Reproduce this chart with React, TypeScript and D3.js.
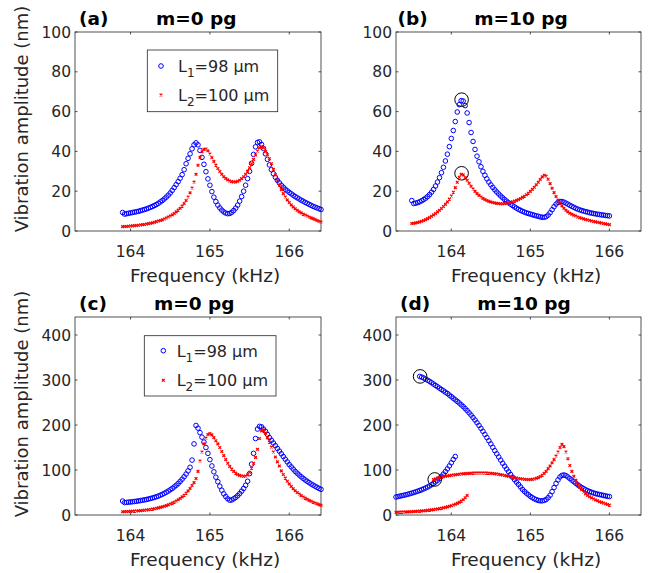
import React from "react";
import * as d3 from "d3";

// Frequency sweep grid (kHz)
const FREQ = [
  163.3, 163.325, 163.35, 163.375, 163.4, 163.425, 163.45, 163.475, 163.5, 163.525, 163.55, 163.575,
  163.6, 163.625, 163.65, 163.675, 163.7, 163.725, 163.75, 163.775, 163.8, 163.825, 163.85, 163.875,
  163.9, 163.925, 163.95, 163.975, 164, 164.025, 164.05, 164.075, 164.1, 164.125, 164.15, 164.175,
  164.2, 164.225, 164.25, 164.275, 164.3, 164.325, 164.35, 164.375, 164.4, 164.425, 164.45, 164.475,
  164.5, 164.525, 164.55, 164.575, 164.6, 164.625, 164.65, 164.675, 164.7, 164.725, 164.75, 164.775,
  164.8, 164.825, 164.85, 164.875, 164.9, 164.925, 164.95, 164.975, 165, 165.025, 165.05, 165.075,
  165.1, 165.125, 165.15, 165.175, 165.2, 165.225, 165.25, 165.275, 165.3, 165.325, 165.35, 165.375,
  165.4, 165.425, 165.45, 165.475, 165.5, 165.525, 165.55, 165.575, 165.6, 165.625, 165.65, 165.675,
  165.7, 165.725, 165.75, 165.775, 165.8, 165.825, 165.85, 165.875, 165.9, 165.925, 165.95, 165.975,
  166, 166.025, 166.05, 166.075, 166.1, 166.125, 166.15, 166.175, 166.2, 166.225, 166.25, 166.275,
  166.3, 166.325, 166.35, 166.375, 166.4,
];

const X_TICKS = [164, 165, 166];
const Y_TICKS_TOP = [0, 20, 40, 60, 80, 100];
const Y_TICKS_BOTTOM = [0, 100, 200, 300, 400];
const LEGEND_LABELS = [
  { base: "L", sub: "1", rest: "=98 μm" },
  { base: "L", sub: "2", rest: "=100 μm" },
];

// (a) m=0 pg, start 163.9 kHz
const A_L1_START = 163.9;
const A_L1 = [
  9.3, 8.5, 8.7, 8.9, 9.1, 9.3, 9.5, 9.7, 9.9, 10.2,
  10.5, 10.8, 11.1, 11.5, 11.9, 12.3, 12.8, 13.3, 13.9, 14.6,
  15.3, 16.1, 17.0, 18.0, 19.1, 20.4, 21.8, 23.3, 24.8, 26.5,
  28.3, 30.8, 33.8, 36.5, 38.8, 41.3, 43.3, 44.3, 43.3, 40.5,
  37.0, 33.5, 29.8, 26.2, 23.0, 19.8, 17.0, 14.8, 13.0, 11.6,
  10.5, 9.6, 9.0, 8.7, 8.8, 9.4, 10.3, 11.5, 13.0, 15.0,
  17.3, 20.0, 23.0, 26.3, 30.0, 34.0, 38.5, 42.3, 44.5, 44.8,
  43.5, 41.5, 38.8, 36.0, 33.2, 30.8, 28.8, 27.0, 25.5, 24.2,
  23.0, 22.0, 21.0, 20.2, 19.4, 18.7, 18.0, 17.3, 16.7, 16.1,
  15.5, 15.0, 14.4, 13.9, 13.4, 12.9, 12.4, 12.0, 11.6, 11.2,
  10.8,
];
const A_L2_START = 163.9;
const A_L2 = [
  2.2, 2.3, 2.3, 2.4, 2.5, 2.6, 2.7, 2.8, 2.9, 3.0,
  3.2, 3.3, 3.5, 3.7, 3.9, 4.1, 4.4, 4.7, 5.0, 5.3,
  5.6, 6.0, 6.5, 7.0, 7.5, 8.1, 8.8, 9.6, 10.5, 11.4,
  12.5, 13.8, 15.3, 17.1, 19.2, 21.6, 24.6, 28.5, 33.0, 37.0,
  39.8, 41.0, 41.2, 40.3, 38.7, 36.9, 35.0, 33.1, 31.4, 29.9,
  28.5, 27.3, 26.4, 25.7, 25.1, 24.8, 24.6, 24.7, 25.0, 25.5,
  26.3, 27.3, 28.5, 30.0, 31.8, 33.8, 36.0, 38.2, 40.2, 41.8,
  42.4, 41.8, 40.0, 38.3, 36.3, 33.8, 31.0, 28.2, 25.5, 23.0,
  20.8, 18.8, 17.1, 15.6, 14.3, 13.1, 12.1, 11.2, 10.4, 9.7,
  9.1, 8.5, 8.0, 7.5, 7.0, 6.6, 6.2, 5.8, 5.3, 4.9,
  4.5,
];

// (b) m=10 pg, start 163.5 kHz
const B_L1_START = 163.5;
const B_L1 = [
  15.3, 13.8, 14.0, 14.3, 14.7, 15.2, 15.8, 16.5, 17.3, 18.3,
  19.5, 20.9, 22.6, 24.6, 26.8, 29.3, 32.0, 35.2, 38.6, 42.4,
  46.5, 50.5, 55.0, 59.8, 63.5, 65.5, 65.3, 63.0, 59.3, 54.5,
  49.5, 45.0, 41.0, 37.6, 34.8, 32.3, 30.0, 28.0, 26.2, 24.6,
  23.2, 21.9, 20.7, 19.6, 18.6, 17.6, 16.7, 15.8, 15.0, 14.2,
  13.5, 12.8, 12.1, 11.5, 10.9, 10.4, 9.9, 9.5, 9.1, 8.8,
  8.5, 8.2, 7.9, 7.6, 7.4, 7.1, 6.9, 6.9, 7.2, 8.0,
  9.2, 10.7, 12.2, 13.5, 14.4, 14.8, 14.8, 14.5, 14.0, 13.5,
  12.9, 12.4, 11.9, 11.4, 11.0, 10.6, 10.3, 10.0, 9.7, 9.5,
  9.2, 9.0, 8.8, 8.6, 8.4, 8.3, 8.1, 8.0, 7.8, 7.7,
  7.6,
];
const B_L2_START = 163.5;
const B_L2 = [
  3.8, 3.9, 4.1, 4.3, 4.6, 4.9, 5.3, 5.7, 6.2, 6.8,
  7.4, 8.1, 8.8, 9.6, 10.4, 11.3, 12.3, 13.4, 14.6, 16.0,
  17.6, 19.5, 21.8, 24.5, 27.0, 28.5, 28.2, 26.9, 25.5, 24.0,
  22.5, 21.1, 19.9, 18.8, 17.9, 17.1, 16.4, 15.8, 15.3, 14.9,
  14.6, 14.3, 14.1, 13.9, 13.8, 13.7, 13.7, 13.8, 13.9, 14.1,
  14.4, 14.7, 15.0, 15.4, 15.8, 16.3, 16.9, 17.5, 18.2, 19.0,
  19.9, 20.9, 22.0, 23.2, 24.5, 25.9, 27.2, 28.0, 27.6, 26.0,
  23.8, 21.5, 19.3, 17.3, 15.5, 14.0, 12.6, 11.4, 10.4, 9.6,
  8.9, 8.4, 7.9, 7.5, 7.0, 6.7, 6.4, 6.1, 5.8, 5.5,
  5.3, 5.0, 4.8, 4.6, 4.4, 4.2, 4.0, 3.8, 3.6, 3.4,
  3.2,
];
const B_MARKED = [
  [164.13, 66],
  [164.13, 29],
];

// (c) m=0 pg, larger drive, start 163.9 kHz
const C_L1_START = 163.9;
const C_L1 = [
  31, 27.5, 28, 28.5, 29, 29.5, 30, 30.6, 31.3, 32,
  32.8, 33.6, 34.5, 35.5, 36.6, 37.8, 39.1, 40.6, 42.2, 44,
  46, 48.2, 50.6, 53.2, 56, 59, 62.3, 66, 70, 74.5,
  79.5, 85, 91, 98, 106, 122, 158, 199, 193, 183,
  173, 162, 150, 137, 123, 109, 96, 84, 74, 64,
  55, 47, 41, 36, 33, 33.5, 36, 39, 43, 47.5,
  53, 59, 66, 75, 92, 113, 137, 170, 191, 197,
  196, 191, 186, 179, 172, 166, 160, 154, 148, 142,
  136, 130, 124, 118, 112, 107, 102, 97, 93, 89,
  85, 81.5, 78, 75, 72, 69, 66.5, 64, 61.5, 59,
  57,
];
const C_L2_START = 163.9;
const C_L2 = [
  7.4, 7.5, 7.6, 7.8, 8.0, 8.3, 8.6, 8.9, 9.3, 9.7,
  10.1, 10.6, 11.1, 11.7, 12.4, 13.1, 13.9, 14.8, 15.8, 16.9,
  18.1, 19.4, 20.9, 22.5, 24.3, 26.3, 28.5, 31.0, 33.8, 36.8,
  40.2, 44, 48.5, 53.5, 59, 65.5, 72, 81, 97, 120,
  140, 158, 171, 179, 181, 178, 172, 165, 158, 150,
  141, 132, 123, 115, 108, 102, 97, 93, 90, 88,
  86.5, 86, 86.5, 89, 95, 104, 115, 128, 146, 170,
  187, 189, 182, 172, 162, 151, 140, 129, 118, 109,
  98, 90, 82, 75, 69, 63.5, 58.5, 54, 50, 46.5,
  43, 40, 37.5, 35, 32.5, 30.5, 28.5, 26.5, 25, 23,
  21.5,
];

// (d) m=10 pg, larger drive: two branches per beam
const D_L1_LOW_START = 163.3;
const D_L1_LOW = [
  40, 41, 42, 43, 44, 45, 46.2, 47.4, 48.7, 50,
  51.4, 52.9, 54.5, 56.2, 58, 60, 62.2, 64.6, 67.3, 70.3,
  73.6, 77.3, 81.5, 86, 91, 96.5, 102.5, 109, 116, 123.5,
  130,
];
const D_L1_UP_START = 163.6;
const D_L1_UP = [
  308, 306.5, 304.5, 302, 299.5, 297, 294, 291, 288, 285,
  282, 279, 276, 273, 270, 266.5, 263, 259.5, 256, 252.5,
  249, 245, 241, 236.5, 232, 227, 222, 216.5, 211, 205,
  199, 192.5, 186, 179, 172, 165, 158, 150.5, 143, 136,
  129, 122, 115, 108.5, 102, 96, 90, 84, 78.5, 73,
  68, 62.5, 57, 52.5, 48.5, 45, 41.5, 38.5, 36, 34,
  32.5, 31.5, 31.5, 32.5, 34.5, 38.5, 44, 52, 61, 70,
  78, 84.5, 88, 89, 87.5, 84.5, 81, 77.5, 74, 70.5,
  67, 64, 61, 58.5, 56, 54, 52, 50.5, 49, 47.5,
  46.5, 45.5, 44.5, 43.5, 42.5, 41.5, 41,
];
const D_L2_LOW_START = 163.3;
const D_L2_LOW = [
  6.0, 6.1, 6.3, 6.4, 6.6, 6.8, 7.0, 7.2, 7.4, 7.7,
  8.0, 8.3, 8.6, 9.0, 9.4, 9.8, 10.3, 10.8, 11.4, 12.0,
  12.7, 13.4, 14.2, 15.1, 16.0, 17.0, 18.1, 19.3, 20.6, 22.1,
  23.8, 25.8, 28.1, 30.8, 34, 38.3, 43.5,
];
const D_L2_UP_START = 163.775;
const D_L2_UP = [
  79, 80.5, 82, 83, 84, 85, 86, 86.8, 87.5, 88.2,
  88.9, 89.5, 90.1, 90.6, 91.1, 91.5, 91.9, 92.2, 92.5, 92.8,
  93, 93.2, 93.3, 93.4, 93.4, 93.4, 93.3, 93.1, 92.9, 92.6,
  92.2, 91.7, 91.1, 90.4, 89.6, 88.8, 87.9, 87, 86, 85,
  84, 83, 82, 81.2, 80.5, 79.9, 79.4, 79, 78.8, 78.8,
  79.2, 80, 81.5, 83, 85.5, 88.5, 92.5, 97, 103, 109,
  116, 123, 131, 140, 150, 157, 152, 140, 125, 110,
  97, 86, 77, 69, 62, 56, 51, 47, 43.5, 40.5,
  38, 35.5, 33.5, 31.5, 29.5, 28, 26.5, 25, 23.5, 22,
];
const D_MARKED = [
  [163.605, 308],
  [163.79, 79],
];

const X_DOMAIN = [163.3, 166.4];
const BLUE = "#0000ff";
const RED = "#ff0000";
const AX = "#262626";
const FONT = "'DejaVu Sans', Verdana, sans-serif";

function toPoints(start, values) {
  const i0 = FREQ.findIndex((f) => Math.abs(f - start) < 1e-6);
  return values.map((v, i) => [FREQ[i0 + i], v]);
}

const PANELS = [
  {
    key: "a", letter: "(a)", title: "m=0 pg",
    left: 75, right: 321, top: 32, bottom: 231, yMax: 100, yTicks: Y_TICKS_TOP,
    letterX: 79, titleX: 156, titleY: 25, xLabelY: 282, xLabelX: 205,
    yLabel: { x: 28, y: 119 },
    legend: { x0: 147.3, x1: 277.7, y0: 50, y1: 111.7, mx: 161, tx: 178, r1: 66, r2: 95 },
    series: [
      { color: "blue", pts: toPoints(A_L1_START, A_L1) },
      { color: "red", pts: toPoints(A_L2_START, A_L2) },
    ],
    marked: [],
  },
  {
    key: "b", letter: "(b)", title: "m=10 pg",
    left: 396, right: 641, top: 32, bottom: 231, yMax: 100, yTicks: Y_TICKS_TOP,
    letterX: 397.5, titleX: 474.3, titleY: 25, xLabelY: 282, xLabelX: 526,
    yLabel: null, legend: null,
    series: [
      { color: "blue", pts: toPoints(B_L1_START, B_L1) },
      { color: "red", pts: toPoints(B_L2_START, B_L2) },
    ],
    marked: B_MARKED,
  },
  {
    key: "c", letter: "(c)", title: "m=0 pg",
    left: 75, right: 321, top: 317, bottom: 515, yMax: 440, yTicks: Y_TICKS_BOTTOM,
    letterX: 79, titleX: 154, titleY: 310, xLabelY: 566, xLabelX: 205,
    yLabel: { x: 28, y: 404 },
    legend: { x0: 144.3, x1: 276, y0: 335.7, y1: 396, mx: 163.3, tx: 176.7, r1: 350.7, r2: 380.3 },
    series: [
      { color: "blue", pts: toPoints(C_L1_START, C_L1) },
      { color: "red", pts: toPoints(C_L2_START, C_L2) },
    ],
    marked: [],
  },
  {
    key: "d", letter: "(d)", title: "m=10 pg",
    left: 396, right: 641, top: 317, bottom: 515, yMax: 440, yTicks: Y_TICKS_BOTTOM,
    letterX: 400, titleX: 477.3, titleY: 310, xLabelY: 566, xLabelX: 526,
    yLabel: null, legend: null,
    series: [
      { color: "blue", pts: toPoints(D_L1_LOW_START, D_L1_LOW) },
      { color: "blue", pts: toPoints(D_L1_UP_START, D_L1_UP) },
      { color: "red", pts: toPoints(D_L2_LOW_START, D_L2_LOW) },
      { color: "red", pts: toPoints(D_L2_UP_START, D_L2_UP) },
    ],
    marked: D_MARKED,
  },
];

function BlueMark({ cx, cy }) {
  return <circle cx={cx} cy={cy} r={2.3} fill="none" stroke={BLUE} strokeWidth={1} />;
}
function RedMark({ cx, cy }) {
  const s = 1.35;
  return (
    <path
      d={`M${cx - s},${cy - s}L${cx + s},${cy + s}M${cx - s},${cy + s}L${cx + s},${cy - s}`}
      stroke={RED}
      strokeWidth={1.25}
      fill="none"
    />
  );
}

function Panel({ p }) {
  const x = d3.scaleLinear().domain(X_DOMAIN).range([p.left, p.right]);
  const y = d3.scaleLinear().domain([0, p.yMax]).range([p.bottom, p.top]);
  const tl = 2.5;
  const blues = p.series.filter((s) => s.color === "blue");
  const reds = p.series.filter((s) => s.color === "red");
  return (
    <g>
      <rect x={p.left} y={p.top} width={p.right - p.left} height={p.bottom - p.top} fill="#fff" stroke={AX} strokeWidth={0.8} />
      {X_TICKS.map((t) => (
        <g key={"xt" + t}>
          <line x1={x(t)} x2={x(t)} y1={p.bottom} y2={p.bottom - tl} stroke={AX} strokeWidth={0.8} />
          <line x1={x(t)} x2={x(t)} y1={p.top} y2={p.top + tl} stroke={AX} strokeWidth={0.8} />
          <text x={x(t)} y={p.bottom + 25.5} textAnchor="middle" fontSize={15.5} fill={AX} fontFamily={FONT}>
            {t}
          </text>
        </g>
      ))}
      {p.yTicks.map((t) => (
        <g key={"yt" + t}>
          <line x1={p.left} x2={p.left + tl} y1={y(t)} y2={y(t)} stroke={AX} strokeWidth={0.8} />
          <line x1={p.right} x2={p.right - tl} y1={y(t)} y2={y(t)} stroke={AX} strokeWidth={0.8} />
          <text x={p.left - 4} y={y(t)} dy="0.36em" textAnchor="end" fontSize={15.5} fill={AX} fontFamily={FONT}>
            {t}
          </text>
        </g>
      ))}
      {blues.map((s, si) =>
        s.pts.map((d, i) => <BlueMark key={`b${si}-${i}`} cx={x(d[0])} cy={y(d[1])} />)
      )}
      {reds.map((s, si) =>
        s.pts.map((d, i) => <RedMark key={`r${si}-${i}`} cx={x(d[0])} cy={y(d[1])} />)
      )}
      {p.marked.map((d, i) => (
        <circle key={"m" + i} cx={x(d[0])} cy={y(d[1])} r={6.8} fill="none" stroke="#000" strokeWidth={1} />
      ))}
      <text x={p.letterX} y={p.titleY} fontSize={18.5} fontWeight="bold" fill="#000" fontFamily={FONT}>
        {p.letter}
      </text>
      <text x={p.titleX} y={p.titleY} fontSize={18.5} fontWeight="bold" fill="#000" fontFamily={FONT}>
        {p.title}
      </text>
      <text x={p.xLabelX} y={p.xLabelY} textAnchor="middle" fontSize={18.5} fill={AX} fontFamily={FONT}>
        Frequency (kHz)
      </text>
      {p.yLabel && (
        <text
          transform={`translate(${p.yLabel.x},${p.yLabel.y}) rotate(-90)`}
          textAnchor="middle"
          fontSize={18}
          fill={AX}
          fontFamily={FONT}
        >
          Vibration amplitude (nm)
        </text>
      )}
      {p.legend && (
        <g>
          <rect
            x={p.legend.x0}
            y={p.legend.y0}
            width={p.legend.x1 - p.legend.x0}
            height={p.legend.y1 - p.legend.y0}
            fill="#fff"
            stroke={AX}
            strokeWidth={0.8}
          />
          <BlueMark cx={p.legend.mx} cy={p.legend.r1} />
          <RedMark cx={p.legend.mx} cy={p.legend.r2} />
          {LEGEND_LABELS.map((lab, i) => (
            <text
              key={"lg" + i}
              x={p.legend.tx}
              y={(i === 0 ? p.legend.r1 : p.legend.r2) + 6}
              fontSize={16}
              fill={AX}
              fontFamily={FONT}
            >
              {lab.base}
              <tspan fontSize={12} dy={5}>{lab.sub}</tspan>
              <tspan dy={-5}>{lab.rest}</tspan>
            </text>
          ))}
        </g>
      )}
    </g>
  );
}

export default function App() {
  return (
    <svg
      width={650}
      height={573}
      viewBox="0 0 650 573"
      style={{ position: "absolute", left: 0, top: 0, background: "#fff" }}
    >
      <rect x={0} y={0} width={650} height={573} fill="#fff" />
      {PANELS.map((p) => (
        <Panel key={p.key} p={p} />
      ))}
    </svg>
  );
}
